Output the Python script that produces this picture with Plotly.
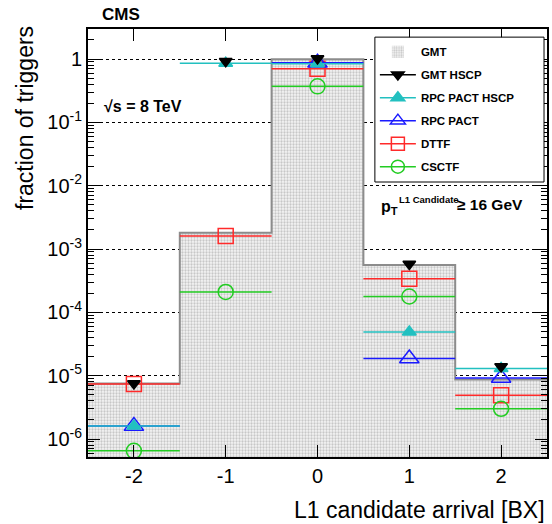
import plotly.graph_objects as go

# bins of L1 candidate arrival [BX]
bx = [-2, -1, 0, 1, 2]
bin_edges = [-2.5, -1.5, -0.5, 0.5, 1.5, 2.5]

# fractions
gmt = [7.5e-6, 1.8e-3, 0.99, 5.6e-4, 8.7e-6]
gmt_hscp = [7.5e-6, 0.92, 1.02, 5.8e-4, 1.4e-5]
rpc_pact_hscp = [1.6e-6, 0.86, 0.84, 4.9e-5, 1.3e-5]
rpc_pact = [1.6e-6, None, 0.87, 1.87e-5, 9.2e-6]
dttf = [7.4e-6, 1.6e-3, 0.70, 3.4e-4, 4.9e-6]
csctf = [6.5e-7, 2.1e-4, 0.37, 1.78e-4, 3.0e-6]

ytick_vals = [1, 1e-1, 1e-2, 1e-3, 1e-4, 1e-5, 1e-6]
ytick_text = ["1", "10<sup>-1</sup>", "10<sup>-2</sup>", "10<sup>-3</sup>",
              "10<sup>-4</sup>", "10<sup>-5</sup>", "10<sup>-6</sup>"]
minor_vals = [k * 10.0 ** e for e in range(-7, 1) for k in range(2, 10)]

FONT = "Liberation Sans, Arial, Helvetica, sans-serif"

fig = go.Figure()

# GMT histogram: dotted grey fill + step outline
fig.add_trace(go.Bar(
    x=bx, y=gmt, width=1, name="GMT",
    marker=dict(color="#ececec", line=dict(width=0),
                pattern=dict(shape=".", fgcolor="#9a9a9a", bgcolor="#f4f4f4",
                             size=3, solidity=0.45)),
    showlegend=True, legendgroup="g0",
))
fig.add_trace(go.Scatter(
    x=bin_edges, y=gmt + [gmt[-1]], mode="lines", line_shape="hv",
    line=dict(color="#8c8c8c", width=2), showlegend=False, hoverinfo="skip",
))

series = [
    ("DTTF", dttf, "square-open", "#ff2a2a", 15, True),
    ("CSCTF", csctf, "circle-open", "#22cc22", 15, True),
    ("RPC PACT", rpc_pact, "triangle-up-open", "#1a1aff", 17, True),
    ("RPC PACT HSCP", rpc_pact_hscp, "triangle-up", "#22c0c0", 12, True),
    ("GMT HSCP", gmt_hscp, "triangle-down", "black", 11, False),
]
for name, vals, sym, col, size, err in series:
    fig.add_trace(go.Scatter(
        x=bx, y=vals, mode="markers", name=name, showlegend=False,
        marker=dict(symbol=sym, size=size, color=col, line=dict(color=col, width=1.5)),
        error_x=dict(type="constant", value=0.5, width=0, color=col, thickness=1.5, visible=err),
    ))

# legend entries (line + marker), in the order of the original legend
legend_order = ["GMT HSCP", "RPC PACT HSCP", "RPC PACT", "DTTF", "CSCTF"]
lookup = {s[0]: s for s in series}
for i, name in enumerate(legend_order):
    _, _, sym, col, size, _ = lookup[name]
    fig.add_trace(go.Scatter(
        x=[None], y=[None], mode="lines+markers", name=name,
        marker=dict(symbol=sym, size=min(size, 13), color=col, line=dict(color=col, width=1.5)),
        line=dict(color=col, width=1.5), legendgroup="g%d" % (i + 1),
    ))

# fixed-size legend frame (ROOT style box)
fig.add_shape(type="rect", xref="paper", yref="paper",
              x0=0.625, x1=0.9935, y0=0.6425, y1=0.981,
              fillcolor="white", line=dict(color="black", width=1), layer="above")

fig.update_layout(
    width=552, height=524,
    margin=dict(l=88, r=3, t=29, b=67),
    plot_bgcolor="white", paper_bgcolor="white",
    font=dict(family=FONT, color="black"),
    barmode="overlay", bargap=0,
    legend=dict(
        x=0.625, y=0.981, xanchor="left", yanchor="top",
        bgcolor="rgba(0,0,0,0)", borderwidth=0,
        font=dict(family=FONT, size=11.5, color="black", weight="bold"),
        tracegroupgap=4, itemwidth=36,
    ),
    xaxis=dict(
        range=[-2.5, 2.5], tickvals=bx, ticktext=[str(v) for v in bx],
        ticks="inside", ticklen=12, tickwidth=1, tickcolor="black",
        showline=True, linecolor="black", linewidth=2, mirror="allticks",
        showgrid=False, zeroline=False,
        tickfont=dict(size=20, family=FONT),
    ),
    yaxis=dict(
        type="log", range=[-6.284, 0.474],
        tickvals=ytick_vals, ticktext=ytick_text,
        ticks="inside", ticklen=12, tickwidth=1, tickcolor="black",
        showline=True, linecolor="black", linewidth=2, mirror="allticks",
        showgrid=True, gridcolor="black", griddash="dot", gridwidth=1,
        minor=dict(tickmode="array", tickvals=minor_vals, ticks="inside",
                   ticklen=6, tickcolor="black", showgrid=False),
        tickfont=dict(size=20, family=FONT),
    ),
    annotations=[
        dict(text="<b>CMS</b>", xref="paper", yref="paper", x=0.026, y=1.035,
             xanchor="left", yanchor="middle", showarrow=False, font=dict(size=17)),
        dict(text="<b>√s = 8 TeV</b>", xref="paper", yref="paper", x=0.03, y=0.818,
             xanchor="left", yanchor="middle", showarrow=False, font=dict(size=16)),
        dict(text="<b>p<sub>T</sub></b>", xref="paper", yref="paper", x=0.633, y=0.584,
             xanchor="left", yanchor="middle", showarrow=False, font=dict(size=16)),
        dict(text="<b>L1 Candidate</b>", xref="paper", yref="paper", x=0.6725, y=0.6016,
             xanchor="left", yanchor="middle", showarrow=False, font=dict(size=9.5)),
        dict(text="<b>≥ 16 GeV</b>", xref="paper", yref="paper", x=0.800, y=0.589,
             xanchor="left", yanchor="middle", showarrow=False, font=dict(size=15.5)),
        dict(text="fraction of triggers", xref="paper", yref="paper", x=-0.137, y=1.012,
             xanchor="center", yanchor="top", textangle=-90, showarrow=False,
             font=dict(size=23)),
        dict(text="L1 candidate arrival [BX]", xref="paper", yref="paper", x=1.0, y=-0.124,
             xanchor="right", yanchor="middle", showarrow=False, font=dict(size=23)),
    ],
)

fig.write_html("out.html", config={"displayModeBar": False},
               post_script="document.body.style.margin='0';")
